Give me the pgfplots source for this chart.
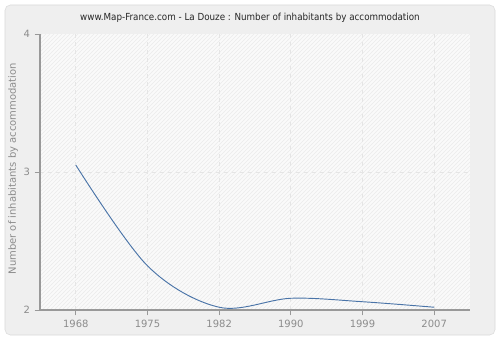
\documentclass[border=0pt]{standalone}
\usepackage{pgfplots}
\pgfplotsset{compat=1.18}
\usepackage{fontspec}
\setmainfont{DejaVu Sans}
\newfontfamily\condfont{DejaVu Sans Condensed}
\usetikzlibrary{patterns}
\definecolor{panel}{HTML}{EFEFEF}
\definecolor{panelborder}{HTML}{DADADA}
\definecolor{plotbg}{HTML}{FAFAFA}
\definecolor{hatch}{HTML}{EBEBEB}
\definecolor{linec}{HTML}{4A74A8}
\definecolor{tickc}{HTML}{8C8C8C}
\definecolor{axisc}{HTML}{999999}
\begin{document}
\begin{tikzpicture}
\fill[white] (0pt,0pt) rectangle (375pt,255pt);
\filldraw[fill=panel, draw=panelborder, rounded corners=4pt] (3.75pt,3.75pt) rectangle (371.25pt,251.25pt);
\node[font=\condfont\fontsize{7.3}{9}\selectfont, text=black!85] at (187.5pt,241.5pt) {www.Map-France.com - La Douze : Number of inhabitants by accommodation};
\node[rotate=90, font=\fontsize{7.5}{9}\selectfont, text=tickc] at (9.75pt,128.5pt) {Number of inhabitants by accommodation};
\begin{axis}[
  at={(30pt,22.5pt)}, anchor=south west,
  scale only axis, width=322.5pt, height=207pt,
  xmin=-0.5, xmax=5.5, ymin=2, ymax=4,
  xtick={0,1,2,3,4,5},
  xticklabels={1968,1975,1982,1990,1999,2007},
  ytick={2,3},
  extra y ticks={4},
  extra y tick style={grid=none},
  axis lines=left,
  axis line style={-, color=axisc, line width=0.8pt},
  tick align=outside,
  major tick length=4pt,
  tick style={color=axisc, line width=0.6pt},
  xmajorgrids, ymajorgrids,
  major grid style={dashed, color=black!10, line width=0.5pt},
  ticklabel style={font=\fontsize{7.5}{9}\selectfont, text=tickc},
  /pgf/number format/assume math mode=true,
  axis background/.style={fill=plotbg, postaction={pattern=north east lines, pattern color=hatch}},
  clip=false,
]
\addplot[color=linec, line width=0.7pt, smooth, tension=0.55] coordinates {
  (0,3.05) (1,2.32) (2,2.02) (3,2.085) (4,2.06) (5,2.02)
};
\end{axis}
\end{tikzpicture}
\end{document}
